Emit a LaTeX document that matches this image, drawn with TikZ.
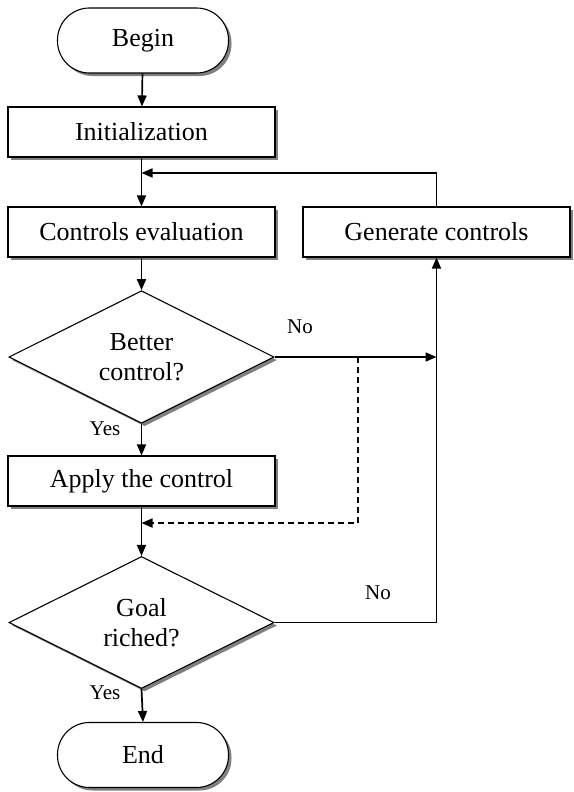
\documentclass[tikz,border=0pt]{standalone}
\usepackage{fontspec}
\setmainfont{Liberation Serif}
\usetikzlibrary{arrows.meta,shapes.geometric,shadows}

\begin{document}
\begin{tikzpicture}[x=1pt,y=-1pt,
  shade/.style={drop shadow={shadow xshift=3pt,shadow yshift=-3pt,fill=black!50,opacity=1}},
  terminal/.style={rectangle,draw,fill=white,line width=1.1pt,rounded corners=32pt,minimum width=171pt,minimum height=65pt,shade,font=\fontsize{26}{30}\selectfont},
  process/.style={rectangle,draw,fill=white,line width=1.1pt,minimum width=267pt,minimum height=50pt,shade,font=\fontsize{26}{30}\selectfont},
  decision/.style={diamond,draw,fill=white,line width=1.1pt,inner sep=0pt,minimum width=265pt,minimum height=132pt,align=center,shade,font=\fontsize{26}{30}\selectfont},
  flow/.style={line width=1.7pt,-{Triangle[length=11pt,width=9pt]}},
  tag/.style={font=\fontsize{21}{24}\selectfont}]
  \useasboundingbox (0,0) rectangle (573,792);

  \node[terminal] (begin) at (143,40.5) {Begin};
  \node[process] (init) at (141.5,132) {Initialization};
  \node[process] (eval) at (141.5,232) {Controls evaluation};
  \node[process] (gen) at (436.5,232) {Generate controls};
  \node[decision] (better) at (141.5,357) {Better\\control?};
  \node[process] (apply) at (141.5,481) {Apply the control};
  \node[decision] (goal) at (141.5,622.5) {Goal\\riched?};
  \node[terminal] (stop) at (143,755) {End};

  \coordinate (merge) at (141.5,173);
  \coordinate (join) at (gen.south |- better.east);
  \coordinate (skip) at (358,357);
  \coordinate (back) at (141.5,523);

  \draw[flow] (begin) -- (init);
  \draw[flow] (init) -- (eval);
  \draw[flow] (gen.north) |- (merge);
  \draw[flow] (eval) -- (better);
  \draw[flow] (better.east) -- (join);
  \draw[flow] (better.south) -- (apply.north);
  \draw[flow,dash pattern=on 6pt off 4pt] (skip) |- (back); % skip the control
  \draw[flow] (apply) -- (goal);
  \draw[flow] (goal.east) -| (gen.south);
  \draw[flow] (goal.south) -- (stop.north);

  \node[tag] (no1) at (300,327) {No};
  \node[tag] (yes1) at (105,429) {Yes};
  \node[tag] (no2) at (378,593) {No};
  \node[tag] (yes2) at (105,693) {Yes};
\end{tikzpicture}
\end{document}
